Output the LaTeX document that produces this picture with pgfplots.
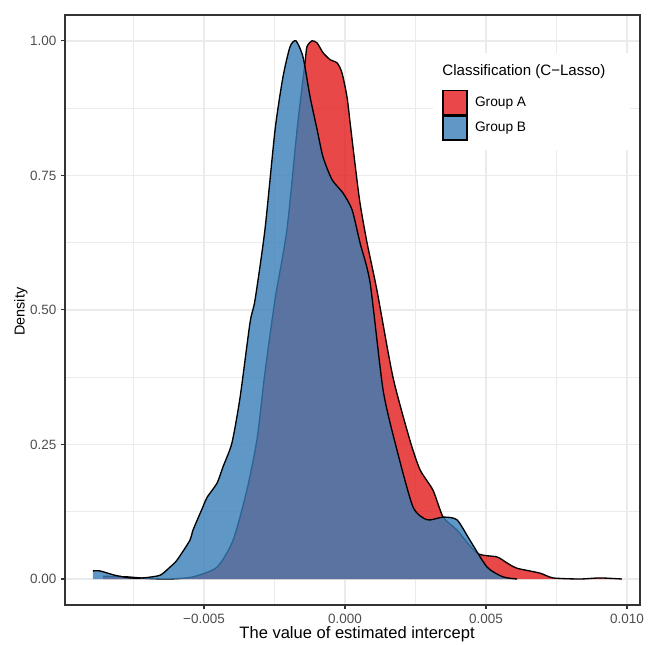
\documentclass[border=0pt]{standalone}
\usepackage{pgfplots}
\usepackage{pgfplotstable}
\pgfplotsset{compat=1.18}
\usepackage{fontspec}
\setmainfont{Liberation Sans}

\definecolor{grA}{HTML}{E41A1C}
\definecolor{grB}{HTML}{377EB8}
\definecolor{gridc}{HTML}{EBEBEB}
\definecolor{framec}{HTML}{333333}
\definecolor{tickc}{HTML}{4D4D4D}

% density of the estimated intercept, Group A
\pgfplotstableread{
x y
-0.00858 0.005
-0.00773 0.004
-0.00702 0.001
-0.00621 0.000
-0.00539 0.004
-0.00454 0.022
-0.00397 0.072
-0.00348 0.165
-0.00312 0.260
-0.00284 0.383
-0.00248 0.520
-0.00206 0.649
-0.00170 0.835
-0.00142 0.959
-0.00135 0.989
-0.00117 1.000
-0.00099 0.996
-0.00078 0.978
-0.00053 0.965
-0.00028 0.959
-0.00011 0.941
0.00007 0.896
0.00018 0.848
0.00035 0.773
0.00053 0.699
0.00078 0.625
0.00113 0.537
0.00170 0.375
0.00230 0.258
0.00266 0.203
0.00312 0.165
0.00348 0.115
0.00397 0.091
0.00468 0.048
0.00539 0.041
0.00574 0.030
0.00610 0.020
0.00691 0.011
0.00738 0.002
0.00833 0.000
0.00904 0.002
0.00982 0.000
}\dataA

% Group B
\pgfplotstableread{
x y
-0.00894 0.015
-0.00869 0.015
-0.00816 0.007
-0.00762 0.002
-0.00716 0.002
-0.00656 0.007
-0.00621 0.022
-0.00596 0.035
-0.00550 0.072
-0.00539 0.091
-0.00504 0.134
-0.00489 0.152
-0.00454 0.178
-0.00433 0.208
-0.00401 0.253
-0.00372 0.338
-0.00337 0.476
-0.00319 0.519
-0.00284 0.649
-0.00248 0.835
-0.00220 0.933
-0.00195 0.989
-0.00174 1.000
-0.00149 0.970
-0.00124 0.896
-0.00099 0.835
-0.00078 0.784
-0.00046 0.742
-0.00007 0.717
0.00025 0.686
0.00053 0.625
0.00089 0.550
0.00135 0.351
0.00184 0.240
0.00241 0.134
0.00291 0.110
0.00348 0.115
0.00397 0.110
0.00443 0.072
0.00504 0.022
0.00560 0.004
0.00610 0.000
}\dataB

\begin{document}
\begin{tikzpicture}
\useasboundingbox (-48.75pt,-29.25pt) rectangle (441.75pt,453.75pt);
\begin{axis}[
    at={(0,0)}, anchor=south west,
    scale only axis,
    width=431.25pt,
    height=442.5pt,
    xmin=-0.00993, xmax=0.01046,
    ymin=-0.0483, ymax=1.048,
    scaled x ticks=false,
    xtick={-0.005,0,0.005,0.01},
    xticklabels={−0.005,0.000,0.005,0.010},
    ytick={0,0.25,0.5,0.75,1},
    yticklabels={0.00,0.25,0.50,0.75,1.00},
    minor xtick={-0.0075,-0.0025,0.0025,0.0075},
    minor ytick={0.125,0.375,0.625,0.875},
    minor tick length=0pt,
    major tick length=3pt,
    tick align=outside,
    tick pos=left,
    grid=both,
    major grid style={draw=gridc, line width=1.1pt},
    minor grid style={draw=gridc, line width=0.55pt},
    axis line style={draw=framec, line width=0.8pt},
    tick style={draw=framec, line width=0.8pt},
    ticklabel style={font=\fontsize{10.1}{12}\selectfont, text=tickc},
    xlabel={The value of estimated intercept},
    ylabel={Density},
    xlabel style={font=\fontsize{12.4}{14}\selectfont, at={(axis description cs:0.508,-0.0576)}, anchor=base},
    ylabel style={font=\fontsize{10.8}{13}\selectfont, at={(axis description cs:-0.0765,0.497)}, anchor=center},
    legend cell align=left,
    legend style={at={(axis description cs:0.656,0.873)}, anchor=north west,
        draw=none, fill=none, inner sep=0pt, row sep=0pt,
        font=\fontsize{10.3}{12}\selectfont,
        nodes={inner sep=1pt},
        /tikz/every odd column/.append style={column sep=4.5pt}},
    legend image code/.code={
        \draw[#1, draw=black, line width=0.9pt] (0pt,-9pt) rectangle (18pt,9pt);
    },
]
\fill[white] (axis description cs:0.640,0.771) rectangle (axis description cs:0.983,0.936);

\addplot[fill=grA, fill opacity=0.8, draw=none, smooth, tension=0.4] table {\dataA} \closedcycle;
\addlegendentry{Group A}
\addplot[black, line width=1pt, smooth, tension=0.4, forget plot] table {\dataA};

\addplot[fill=grB, fill opacity=0.8, draw=none, smooth, tension=0.4] table {\dataB} \closedcycle;
\addlegendentry{Group B}
\addplot[black, line width=1pt, smooth, tension=0.4, forget plot] table {\dataB};

\node[anchor=base west, inner sep=0pt, font=\fontsize{11.3}{13}\selectfont]
    at (axis description cs:0.656,0.898) {Classification (C−Lasso)};
\end{axis}
\end{tikzpicture}
\end{document}
